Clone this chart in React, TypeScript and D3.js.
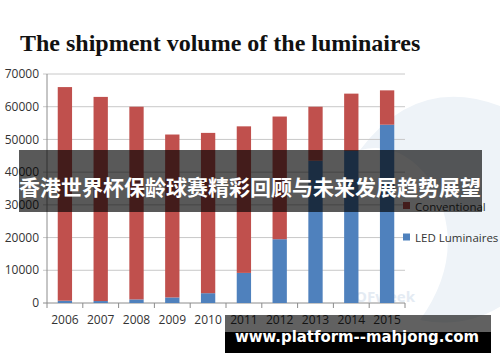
import React from "react";
import * as d3 from "d3";

const years = ["2006", "2007", "2008", "2009", "2010", "2011", "2012", "2013", "2014", "2015"];
const ledLuminaires = [700, 600, 1100, 1700, 3000, 9200, 19500, 43500, 46500, 54500];
const conventional = [65300, 62400, 58900, 49800, 49000, 44800, 37500, 16500, 17500, 10500];
const yTicks = [0, 10000, 20000, 30000, 40000, 50000, 60000, 70000];
const seriesNames = ["LED Luminaires", "Conventional"];
const legendOrder = ["Conventional", "LED Luminaires"];

const colors: Record<string, string> = {
  "LED Luminaires": "#4F81BD",
  Conventional: "#C0504D",
};

const W = 500;
const H = 362;
const left = 47;
const right = 405;
const top = 74;
const bottom = 303;

export default function App() {
  const rows = years.map((y, i) => ({
    year: y,
    "LED Luminaires": ledLuminaires[i],
    Conventional: conventional[i],
  }));
  const stack = d3.stack<any>().keys(seriesNames)(rows);
  const x = d3.scaleBand().domain(years).range([left, right]).paddingInner(0.6).paddingOuter(0.3);
  const y = d3.scaleLinear().domain([0, 70000]).range([bottom, top]);
  const step = x.step();
  const sans = "'Open Sans', 'Noto Sans', sans-serif";

  return (
    <svg
      width={W}
      height={H}
      style={{ position: "absolute", left: 0, top: 0, background: "#fff" }}
    >
      <rect x={0} y={0} width={W} height={H} fill="#ffffff" />
      {/* faint watermark */}
      <path
        d="M 360 150 Q 420 70 510 110 L 510 300 Q 470 330 420 320 Q 470 250 430 180 Q 400 140 360 150 Z"
        fill="#eef3f8"
      />
      <text x={355} y={302} fontFamily={sans} fontSize={15} fontWeight={700} fill="#e4ebf3">
        OFweek
      </text>

      <text
        x={20}
        y={51}
        fontFamily="'Liberation Serif', 'DejaVu Serif', serif"
        fontWeight={700}
        fontSize={24}
        fill="#111"
      >
        The shipment volume of the luminaires
      </text>

      {/* gridlines */}
      {yTicks.map((t) => (
        <line
          key={t}
          x1={left - 4}
          x2={right}
          y1={y(t)}
          y2={y(t)}
          stroke={t === 0 ? "#8c8c8c" : "#c8c8c8"}
          strokeWidth={1}
        />
      ))}
      <line x1={left} x2={left} y1={top} y2={bottom} stroke="#8c8c8c" />
      {d3.range(years.length + 1).map((i) => (
        <line
          key={i}
          x1={left + i * step}
          x2={left + i * step}
          y1={bottom}
          y2={bottom + 5}
          stroke="#8c8c8c"
        />
      ))}

      {yTicks.map((t) => (
        <text
          key={t}
          x={39}
          y={y(t)}
          dy="0.35em"
          textAnchor="end"
          fontFamily={sans}
          fontSize={12}
          fill="#333"
        >
          {t}
        </text>
      ))}
      {years.map((yr) => (
        <text
          key={yr}
          x={(x(yr) as number) + x.bandwidth() / 2}
          y={324}
          textAnchor="middle"
          fontFamily={sans}
          fontSize={12}
          fill="#333"
        >
          {yr}
        </text>
      ))}

      {stack.map((s) => (
        <g key={s.key} fill={colors[s.key]}>
          {s.map((d: any, i: number) => (
            <rect
              key={i}
              x={x(years[i])}
              width={x.bandwidth()}
              y={y(d[1])}
              height={y(d[0]) - y(d[1])}
            />
          ))}
        </g>
      ))}

      {legendOrder.map((k, i) => (
        <g key={k} transform={`translate(403, ${202 + i * 31.5})`}>
          <rect x={0} y={0} width={7} height={7} fill={colors[k]} />
          <text x={12} y={8.5} fontFamily={sans} fontSize={11.5} fill="#333">
            {k}
          </text>
        </g>
      ))}

      {/* overlay banner */}
      <rect x={19} y={150} width={463} height={62} fill="#000" opacity={0.65} />
      <text
        x={250}
        y={186}
        textAnchor="middle"
        dominantBaseline="central"
        fontFamily="'Noto Sans CJK SC', sans-serif"
        fontWeight={700}
        fontSize={21}
        fill="#fff"
      >
        香港世界杯保龄球赛精彩回顾与未来发展趋势展望
      </text>

      {/* bottom url banner */}
      <rect x={225} y={315} width={266} height={17} fill="#000" opacity={0.62} />
      <rect x={225} y={332} width={266} height={21} fill="#000" />
      <text
        x={235}
        y={342}
        fontFamily="'DejaVu Sans', sans-serif"
        fontWeight={700}
        fontSize={16}
        fill="#fff"
        textLength={244}
        lengthAdjust="spacingAndGlyphs"
      >
        www.platform--mahjong.com
      </text>
    </svg>
  );
}
